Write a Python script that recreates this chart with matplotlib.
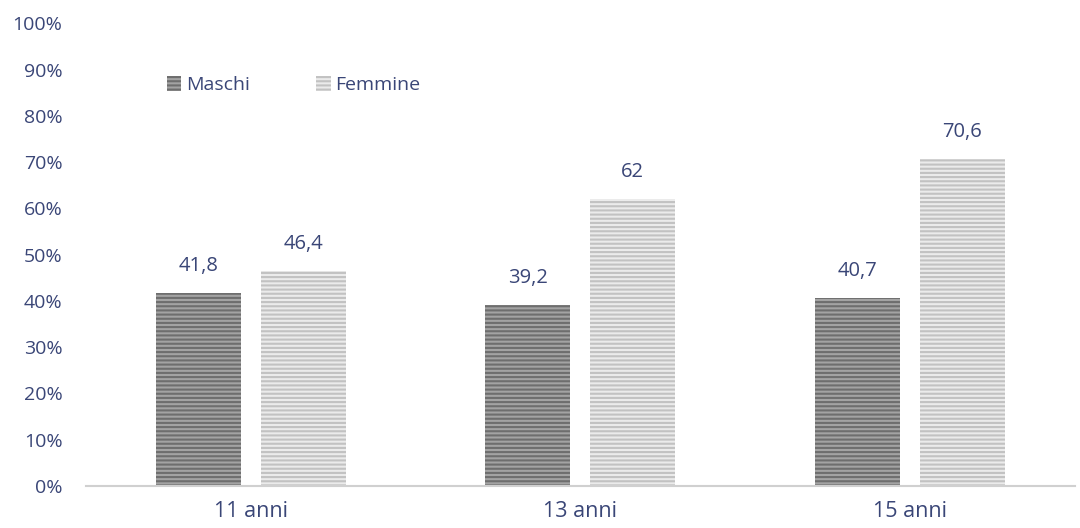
import matplotlib.pyplot as plt
import numpy as np

categories = ["11 anni", "13 anni", "15 anni"]
maschi = [41.8, 39.2, 40.7]
femmine = [46.4, 62.0, 70.6]
yticks = [0, 10, 20, 30, 40, 50, 60, 70, 80, 90, 100]

TEXT = "#3a4677"
plt.rcParams['font.family'] = ['Open Sans', 'DejaVu Sans']
plt.rcParams['hatch.linewidth'] = 1.5


def fmt(v):
    s = f"{v:.1f}".replace(".", ",")
    return s[:-2] if s.endswith(",0") else s


fig = plt.figure(figsize=(10.8, 5.28), dpi=100)
ax = fig.add_axes([0.0796, 0.0795, 0.9154, 0.8765])

x = np.arange(len(categories))
w = 0.258
off = 0.159

b1 = ax.bar(x - off, maschi, w, color="#a3a3a3", hatch="----",
            edgecolor="#6e6e6e", linewidth=0, label="Maschi")
b2 = ax.bar(x + off, femmine, w, color="#ebebeb", hatch="----",
            edgecolor="#c2c2c2", linewidth=0, label="Femmine")

for bars, vals in ((b1, maschi), (b2, femmine)):
    for r, v in zip(bars, vals):
        ax.text(r.get_x() + r.get_width() / 2, v + 5.8, fmt(v),
                ha="center", va="center", fontsize=14.5, color=TEXT)

ax.set_xlim(-0.5, 2.5)
ax.set_ylim(0, 100)
ax.set_xticks(x)
ax.set_xticklabels(categories, fontsize=15.5, color=TEXT)
ax.set_yticks(yticks)
ax.set_yticklabels([f"{t}%" for t in yticks], fontsize=14, color=TEXT)
ax.tick_params(axis="both", length=0)
ax.tick_params(axis="y", pad=17)
ax.tick_params(axis="x", pad=11)
for s in ("top", "right", "left"):
    ax.spines[s].set_visible(False)
ax.spines["bottom"].set_color("#d0d0d0")
ax.spines["bottom"].set_linewidth(1.5)

ax.legend(loc="center left", bbox_to_anchor=(0.064, 0.866), ncol=2, frameon=False,
          fontsize=14, labelcolor=TEXT, handlelength=0.75, handleheight=0.75,
          handletextpad=0.25, columnspacing=3.4)

fig.savefig("out.png", dpi=100)
